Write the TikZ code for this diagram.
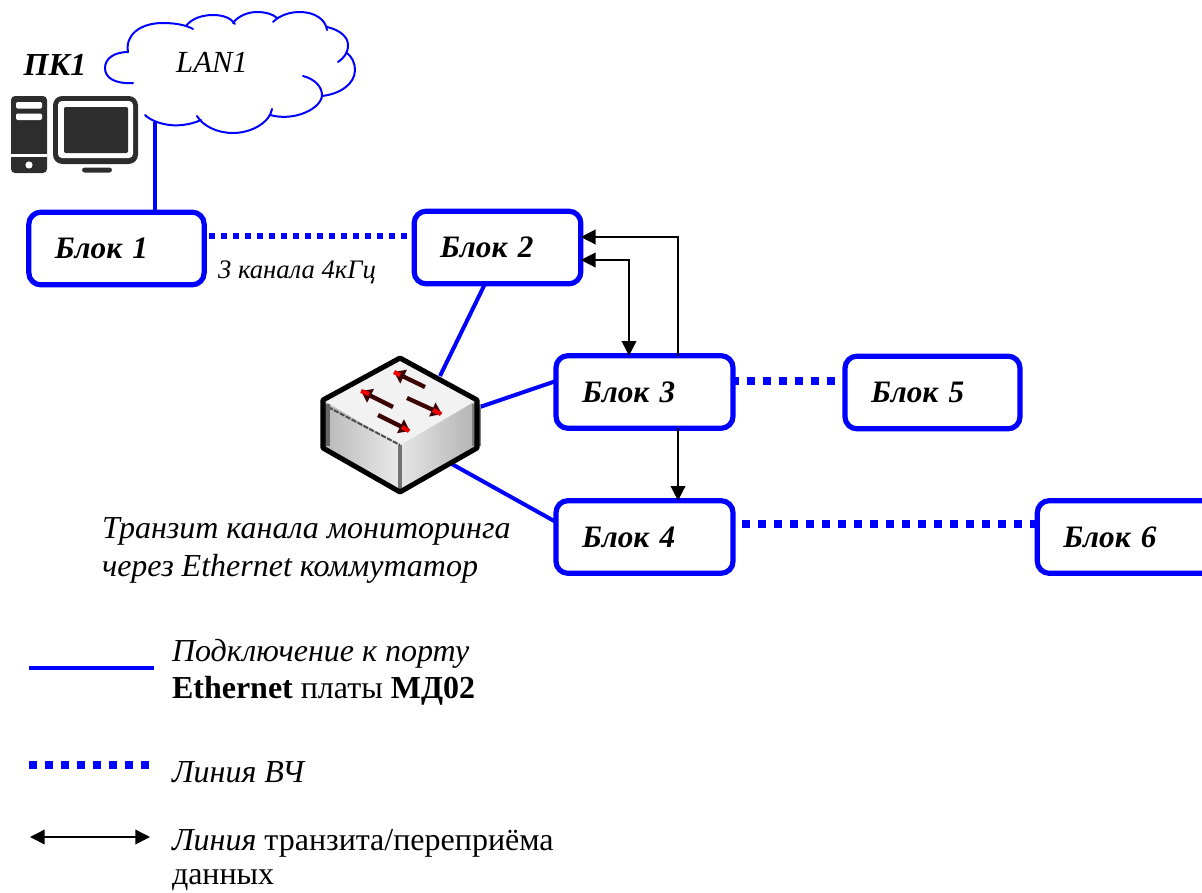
\documentclass[tikz,border=0pt]{standalone}
\usepackage{fontspec}
\setmainfont{Liberation Serif}
\usetikzlibrary{arrows.meta}
\definecolor{netblue}{RGB}{0,0,255}
\definecolor{pcdark}{RGB}{45,45,45}
\definecolor{arrowred}{RGB}{240,0,0}
\definecolor{arrowdark}{RGB}{60,5,5}
\tikzset{
  x=.75pt,y=-.75pt,
  blockbox/.style={draw=netblue,line width=3.9pt,rounded corners=9pt,fill=white,
    minimum height=54.5pt,outer sep=0pt,inner xsep=19.5pt,inner ysep=0pt,
    align=left,text width=#1,font=\fontsize{23.4}{28}\selectfont\bfseries\itshape},
  plaintext/.style={inner sep=0pt,outer sep=0pt,align=left,font=\fontsize{24}{28}\selectfont},
  ethline/.style={draw=netblue,line width=3pt},
  hfline/.style={draw=netblue,line width=5.6pt,dash pattern=on 6pt off 6pt},
  hfthin/.style={draw=netblue,line width=4.5pt,dash pattern=on 4.5pt off 4.5pt},
  transit/.style={draw=black,line width=1.1pt},
  tip/.style={-{Triangle[length=11pt,width=11pt]}},
  tips/.style={{Triangle[length=11pt,width=11pt]}-{Triangle[length=11pt,width=11pt]}},
  cloudline/.style={draw=netblue,line width=1.5pt,line cap=round},
  swarrow/.style={line width=3.2pt,draw=arrowdark,-{Triangle[length=8pt,width=11pt,color=arrowdark]}},
  swglow/.style={line width=3.2pt,draw=arrowred},
}
\begin{document}
\begin{tikzpicture}
\useasboundingbox (0,0) rectangle (1202,892);
\clip (0,0) rectangle (1202,892);

% cloud
\draw[cloudline] (133,83) .. controls (115,84) and (105,78) .. (105,68) .. controls (105,58) and (115,52) .. (128,52);
\draw[cloudline] (128,52) .. controls (125,35) and (140,23) .. (163,23) .. controls (175,23) and (186,25) .. (193,29);
\draw[cloudline] (186,26) .. controls (192,18) and (203,15) .. (213,15) .. controls (223,15) and (231,18) .. (235,24);
\draw[cloudline] (233,23) .. controls (238,16) and (248,12) .. (257,12) .. controls (265,12) and (273,14) .. (277,18);
\draw[cloudline] (273,22) .. controls (280,15) and (290,12) .. (300,12) .. controls (315,12) and (326,20) .. (327,30);
\draw[cloudline] (327,27) .. controls (340,30) and (348,37) .. (348,45) .. controls (348,53) and (344,58) .. (338,62);
\draw[cloudline] (347,53) .. controls (352,57) and (355,63) .. (355,70) .. controls (355,84) and (340,94) .. (322,96);
\draw[cloudline] (303,76) .. controls (315,79) and (322,87) .. (322,95) .. controls (322,108) and (295,122) .. (270,115);
\draw[cloudline] (272,109) .. controls (270,122) and (252,133) .. (233,133) .. controls (217,133) and (203,126) .. (197,116);
\draw[cloudline] (201,120) .. controls (190,125) and (178,126) .. (170,125) .. controls (160,124) and (150,120) .. (145,115);
\node[plaintext,anchor=center,font=\fontsize{23}{28}\selectfont\itshape] (lan) at (212,62) {LAN1};
\coordinate (lanport) at (155,122);

% PC
\node[plaintext,anchor=center,font=\fontsize{24}{28}\selectfont\bfseries\itshape] (pclabel) at (55,65) {ПК1};
\fill[pcdark,rounded corners=3pt] (11,96) rectangle (47,173);
\fill[white] (11,154) rectangle (47,156.5);
\fill[white,rounded corners=1pt] (16,102) rectangle (42,108.5);
\fill[white,rounded corners=1pt] (16,113.5) rectangle (42,120);
\fill[white] (29,165) circle[radius=3.6];
\fill[pcdark,rounded corners=7pt] (53,96) rectangle (138,164);
\fill[white,rounded corners=3pt] (58,101) rectangle (133,158);
\fill[pcdark,rounded corners=1pt] (64,107) rectangle (128,153);
\fill[pcdark,rounded corners=2pt] (82,167.5) rectangle (112,172.5);

% blocks
\node[blockbox=92.5pt] (b1) at (116.5,248.5) {Блок 1};
\node[blockbox=86pt] (b2) at (497.5,247.5) {Блок 2};
\node[blockbox=93.75pt] (b3) at (644.5,392) {Блок 3};
\node[blockbox=92.25pt] (b5) at (932.5,392.5) {Блок 5};
\node[blockbox=93.75pt] (b4) at (644.5,537) {Блок 4};
\node[blockbox=100pt] (b6) at (1130,537) {Блок 6};

% switch
\coordinate (swtop) at (400,358);
\coordinate (swleft) at (323,400);
\coordinate (swright) at (477,400);
\coordinate (swbl) at (323,448);
\coordinate (swbr) at (477,448);
\coordinate (swbot) at (400,492);
\coordinate (swmid) at (400,445);

\draw[ethline] (b2.south -| 485,0) -- (440,376);
\draw[ethline] (b3.west |- 0,381) -- (477,408);
\draw[ethline] (b4.west |- 0,522) -- (450,463);
\draw[ethline] (lanport) -- (lanport |- b1.north);

\shade[left color=black!28,right color=black!8] (swleft) -- (swmid) -- (swbot) -- (swbl) -- cycle;
\shade[left color=black!10,right color=black!30] (swmid) -- (swright) -- (swbr) -- (swbot) -- cycle;
\fill[black!5] (swtop) -- (swright) -- (swmid) -- (swleft) -- cycle;
\draw[black!55,line width=3pt] (swmid) -- (swbot);
\draw[black!70,line width=1.5pt,dash pattern=on 4pt off 1pt] (328,407) -- (swmid);
\fill[black!50] (472,404) rectangle (481,446);
\fill[black!60] (323,404) rectangle (330,446);
\draw[black,line width=3.8pt,line join=round] (swtop) -- (swright) -- (swbr) -- (swbot) -- (swbl) -- (swleft) -- cycle;
\draw[swarrow] (425,387) -- (394,372);
\draw[swglow] (400,375) -- (394,372);
\draw[swarrow] (393,407) -- (361,391);
\draw[swglow] (369,394) -- (361,391);
\draw[swarrow] (407,398) -- (442,414);
\draw[swglow] (433,410) -- (441,414);
\draw[swarrow] (378,415) -- (410,431);
\draw[swglow] (402,427) -- (409,431);

% HF lines
\draw[hfthin] (b1.east |- 0,236) ++(5,0) -- (b2.west |- 0,236);
\draw[hfline] (b3.east |- 0,381) ++(-2,0) -- (b5.west |- 0,381);
\draw[hfline] (b4.east |- 0,524) ++(9,0) -- (b6.west |- 0,524);

% transit lines
\coordinate (tr1) at (678,237);
\coordinate (tr2) at (629,260);
\draw[transit,tip] (b3.north -| tr1) -- (tr1) -- (b2.east |- tr1);
\draw[transit,tips] (b2.east |- tr2) -- (tr2) -- (b3.north -| tr2);
\draw[transit,tip] (b3.south -| tr1) -- (b4.north -| tr1);

% texts
\node[plaintext,anchor=base west,font=\fontsize{20}{24}\selectfont\itshape] (hf3) at (218,278) {3 канала 4кГц};
\node[plaintext,anchor=north west,font=\fontsize{24}{28}\selectfont\itshape] (trcap) at (102,518) {Транзит канала мониторинга\\через Ethernet коммутатор};

% legend
\coordinate (l1a) at (29,668); \coordinate (l1b) at (154,668);
\coordinate (l2a) at (29,765); \coordinate (l2b) at (149,765);
\coordinate (l3a) at (30,837); \coordinate (l3b) at (150,837);
\draw[ethline] (l1a) -- (l1b);
\draw[hfline] (l2a) -- (l2b);
\draw[transit,tips] (l3a) -- (l3b);
\node[plaintext,anchor=north west] (lt1) at (172,639) {\textit{Подключение к порту}\\\textbf{Ethernet} платы \textbf{МД02}};
\node[plaintext,anchor=base west,font=\fontsize{24}{28}\selectfont\itshape] (lt2) at (172,782) {Линия ВЧ};
\node[plaintext,anchor=north west,font=\fontsize{24}{26}\selectfont] (lt3) at (172,829) {\textit{Линия} транзита/переприёма\\данных};
\end{tikzpicture}
\end{document}
